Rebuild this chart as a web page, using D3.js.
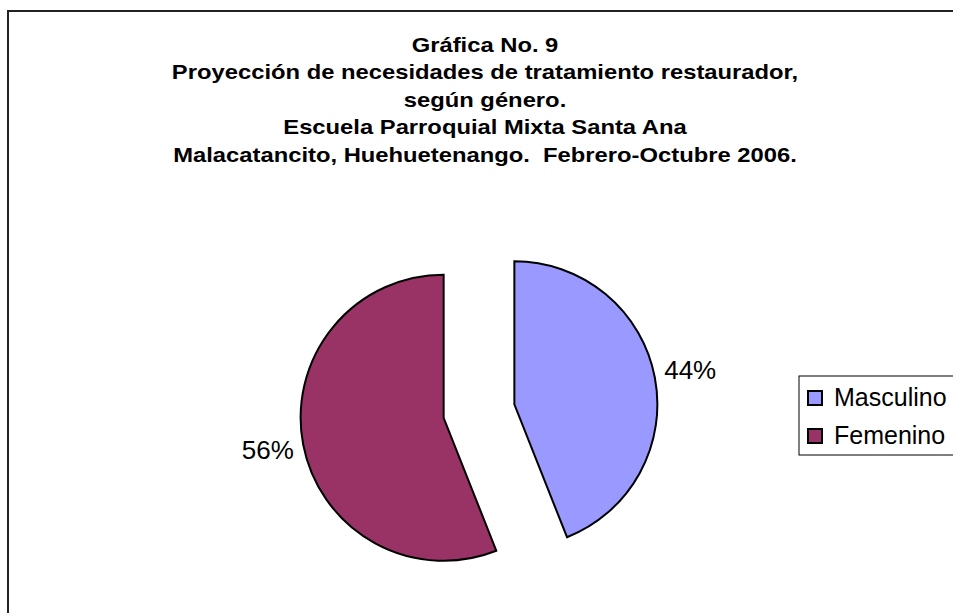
<!DOCTYPE html>
<html lang="es">
<head>
<meta charset="UTF-8">
<script src="https://cdn.jsdelivr.net/npm/d3@7"></script>
<style>
  body { margin: 0; background: #fff; }
  svg text { font-family: "Liberation Sans", Arial, sans-serif; }
</style>
</head>
<body>
<svg id="chart" width="953" height="613"></svg>
<script>

// data
var categories = ["Masculino", "Femenino"];
var values = [44, 56];
var colors = ["#9999FF", "#993366"];
var titleLines = [
    "Gráfica No. 9",
    "Proyección de necesidades de tratamiento restaurador,",
    "según género.",
    "Escuela Parroquial Mixta Santa Ana",
    "Malacatancito, Huehuetenango.  Febrero-Octubre 2006."
];

var svg = d3.select("#chart");

// outer frame (right and bottom fall outside the picture)
svg.append("rect")
    .attr("x", 8).attr("y", 11)
    .attr("width", 960).attr("height", 620)
    .attr("fill", "none")
    .attr("stroke", "#222")
    .attr("stroke-width", 2);

// TITLE - the original text is rendered wider than Liberation, so stretch it a bit
var titleX = 485;
svg.append("g")
    .attr("transform", "translate(" + titleX + ",0) scale(1.133,1)")
    .selectAll("text")
    .data(titleLines)
    .join("text")
    .attr("x", 0)
    .attr("y", function (d, i) { return 52 + i * 27.5; })
    .attr("text-anchor", "middle")
    .style("font-size", "21px")
    .style("font-weight", "bold")
    .style("white-space", "pre")
    .text(function (d) { return d; });

// PIE
var cx = 479, cy = 411, radius = 143, explode = 36;

var pie = d3.pie().sort(null).value(function (d) { return d; });
var arc = d3.arc().innerRadius(0).outerRadius(radius);
var arcs = pie(values);

var pieG = svg.append("g").attr("transform", "translate(" + cx + "," + cy + ")");

var slices = pieG.selectAll("g.slice")
    .data(arcs)
    .join("g")
    .attr("class", "slice")
    .attr("transform", function (d) {
        var a = (d.startAngle + d.endAngle) / 2;
        return "translate(" + (Math.sin(a) * explode) + "," + (-Math.cos(a) * explode) + ")";
    });

slices.append("path")
    .attr("d", arc)
    .attr("fill", function (d, i) { return colors[i]; })
    .attr("stroke", "#000")
    .attr("stroke-width", 2)
    .attr("stroke-linejoin", "miter");

// percentage labels outside the slices
var labelArc = d3.arc().innerRadius(radius + 36).outerRadius(radius + 36);
slices.append("text")
    .attr("transform", function (d) {
        var p = labelArc.centroid(d);
        return "translate(" + p[0] + "," + (p[1] + 8) + ") scale(1.04,1)";
    })
    .attr("text-anchor", "middle")
    .style("font-size", "25px")
    .text(function (d) {
        var total = d3.sum(values);
        return Math.round(d.data / total * 100) + "%";
    });

// LEGEND
var legend = svg.append("g").attr("transform", "translate(799,376)");
legend.append("rect")
    .attr("width", 170).attr("height", 79)
    .attr("fill", "#fff")
    .attr("stroke", "#000")
    .attr("stroke-width", 1);

var items = legend.selectAll("g.item")
    .data(categories)
    .join("g")
    .attr("class", "item")
    .attr("transform", function (d, i) { return "translate(9," + (15 + i * 38) + ")"; });

items.append("rect")
    .attr("width", 14).attr("height", 14)
    .attr("fill", function (d, i) { return colors[i]; })
    .attr("stroke", "#000")
    .attr("stroke-width", 2);

items.append("text")
    .attr("x", 26)
    .attr("y", 15)
    .style("font-size", "25px")
    .text(function (d) { return d; });

</script>
</body>
</html>
